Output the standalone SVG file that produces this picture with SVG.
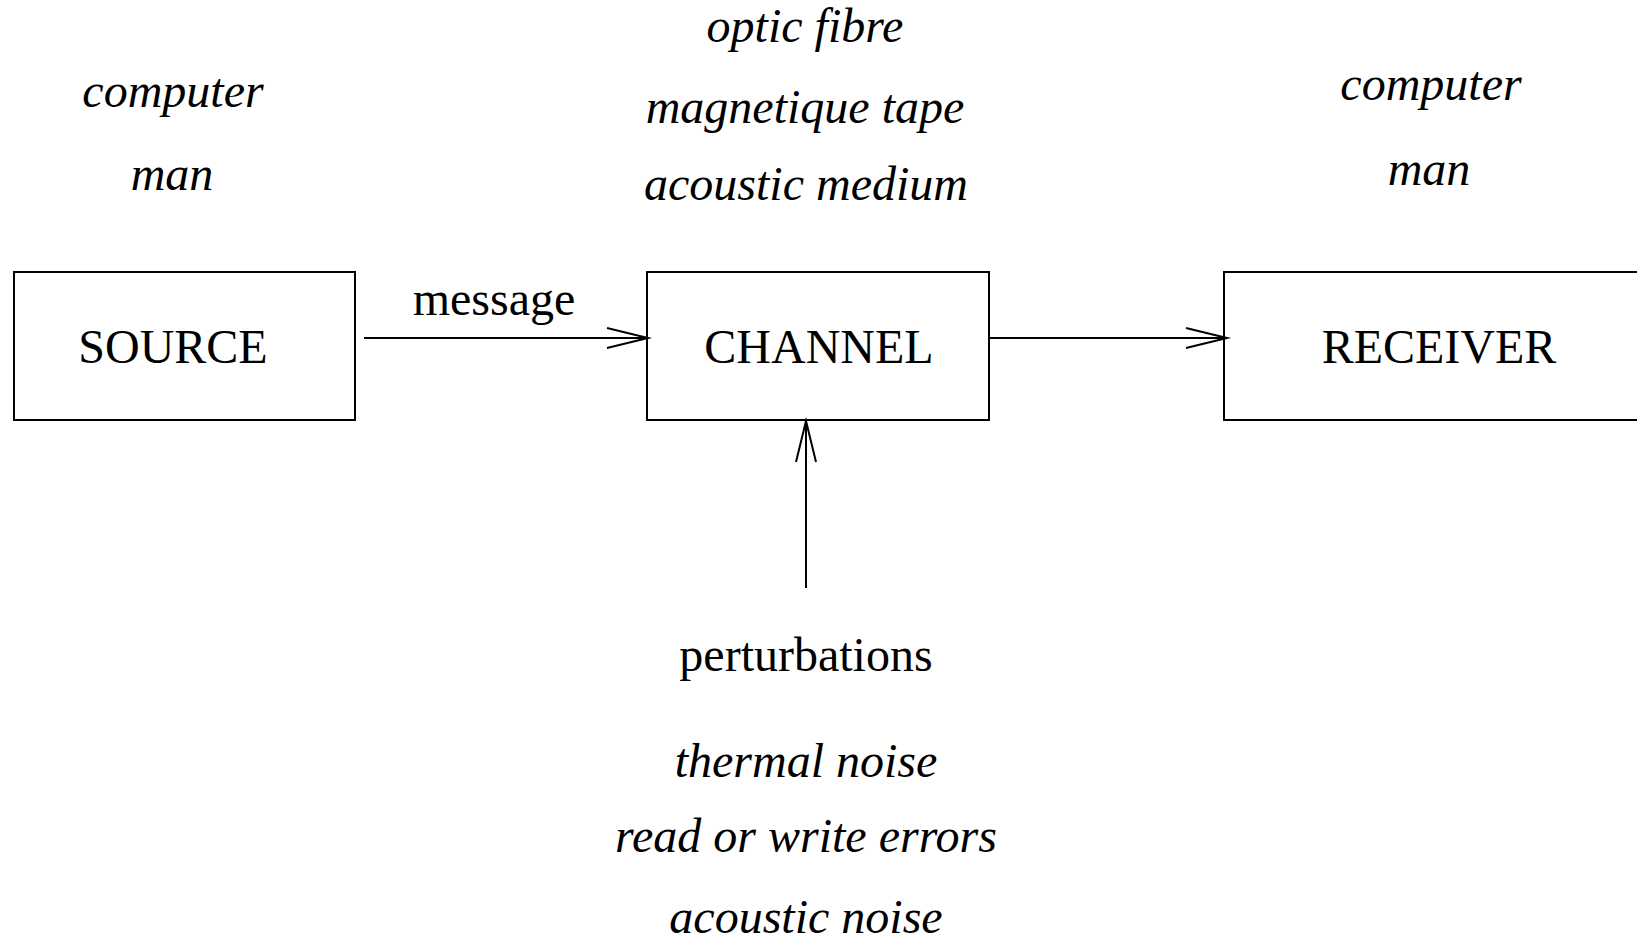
<svg xmlns="http://www.w3.org/2000/svg" width="1637" height="936" viewBox="0 0 1637 936">
  <style>
    .box { fill: #ffffff; stroke: #000000; stroke-width: 2; }
    .wire { fill: none; stroke: #000000; stroke-width: 2; }
    .label { font-family: "Liberation Serif", "Times New Roman", serif; font-size: 48px; fill: #000000; text-anchor: middle; }
    .note { font-family: "Liberation Serif", "Times New Roman", serif; font-size: 48px; font-style: italic; fill: #000000; text-anchor: middle; }
  </style>
  <defs>
    <!-- open V arrowhead, drawn in user units -->
    <marker id="openArrow" markerUnits="userSpaceOnUse" markerWidth="60" markerHeight="40" viewBox="-50 -20 60 40" refX="0" refY="0" orient="auto" overflow="visible">
      <path d="M-41,-10 L0,0 L-41,10" fill="none" stroke="#000000" stroke-width="2" stroke-linejoin="miter" stroke-miterlimit="10"/>
    </marker>
  </defs>
  <rect width="1637" height="936" fill="#ffffff"/>

  <!-- examples above the blocks -->
  <g id="source-examples">
    <text class="note" x="173" y="107">computer</text>
    <text class="note" x="172" y="190">man</text>
  </g>
  <g id="channel-examples">
    <text class="note" x="805" y="42">optic fibre</text>
    <text class="note" x="805" y="123">magnetique tape</text>
    <text class="note" x="806" y="200">acoustic medium</text>
  </g>
  <g id="receiver-examples">
    <text class="note" x="1431" y="100">computer</text>
    <text class="note" x="1429" y="185">man</text>
  </g>

  <!-- blocks -->
  <g id="source">
    <rect class="box" x="14" y="272" width="341" height="148"/>
    <text class="label" x="173" y="363">SOURCE</text>
  </g>
  <g id="channel">
    <rect class="box" x="647" y="272" width="342" height="148"/>
    <text class="label" x="819" y="363">CHANNEL</text>
  </g>
  <g id="receiver">
    <rect class="box" x="1224" y="272" width="460" height="148"/>
    <text class="label" x="1439" y="363">RECEIVER</text>
  </g>

  <!-- perturbation source below the channel -->
  <g id="perturbations">
    <text class="label" x="806" y="671">perturbations</text>
    <text class="note" x="806" y="777">thermal noise</text>
    <text class="note" x="806" y="852">read or write errors</text>
    <text class="note" x="806" y="933">acoustic noise</text>
  </g>

  <!-- connectors -->
  <g id="connectors">
    <line class="wire" x1="364" y1="338" x2="648" y2="338" marker-end="url(#openArrow)"/>
    <text class="label" x="494" y="315">message</text>
    <line class="wire" x1="989" y1="338" x2="1227" y2="338" marker-end="url(#openArrow)"/>
    <line class="wire" x1="806" y1="588" x2="806" y2="421" marker-end="url(#openArrow)"/>
  </g>
</svg>
